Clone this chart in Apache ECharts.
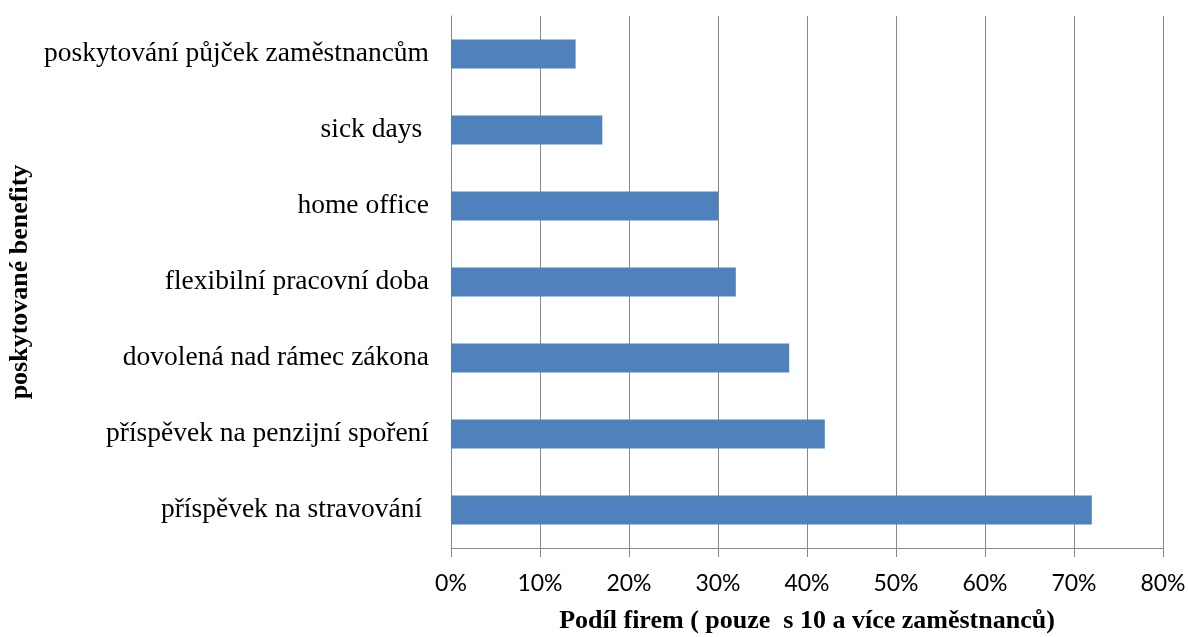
<!DOCTYPE html>
<html>
<head>
<meta charset="utf-8">
<script src="https://cdn.jsdelivr.net/npm/echarts@6/dist/echarts.min.js"></script>
<style>
    html, body { margin: 0; padding: 0; background: #fff; }
    #chart { width: 1188px; height: 637px; }
</style>
</head>
<body>
<div id="chart"></div>
<script>
    // data, bottom to top
    var categories = [
        'příspěvek na stravování ',
        'příspěvek na penzijní spoření',
        'dovolená nad rámec zákona',
        'flexibilní pracovní doba',
        'home office',
        'sick days ',
        'poskytování půjček zaměstnancům'
    ];
    var shares = [72, 42, 38, 32, 30, 17, 14];
    var xTicks = [0, 10, 20, 30, 40, 50, 60, 70, 80];

    var chart = echarts.init(document.getElementById('chart'));
    var serif = '"Liberation Serif", "DejaVu Serif", serif';

    var options = {
        animation: false,
        grid: {
            left: 451,
            right: 25,
            top: 16,
            bottom: 89,
            containLabel: false,
            outerBoundsMode: 'none'
        },
        xAxis: {
            type: 'value',
            min: xTicks[0],
            max: xTicks[xTicks.length - 1],
            interval: 10,
            name: 'Podíl firem ( pouze  s 10 a více zaměstnanců)',
            nameLocation: 'middle',
            nameGap: 60,
            nameTextStyle: {
                fontFamily: serif,
                fontWeight: 'bold',
                fontSize: 26,
                color: '#000'
            },
            axisLine: { show: true, lineStyle: { color: '#888', width: 1 } },
            axisTick: { show: true, length: 9, lineStyle: { color: '#888' } },
            axisLabel: {
                formatter: '{value}%',
                margin: 24,
                fontFamily: 'Lato, "Open Sans", sans-serif',
                fontSize: 23,
                color: '#000'
            },
            splitLine: { show: true, lineStyle: { color: '#888', width: 1 } }
        },
        yAxis: {
            type: 'category',
            data: categories,
            name: 'poskytované benefity',
            nameLocation: 'middle',
            nameGap: 417,
            nameRotate: 90,
            nameTextStyle: {
                fontFamily: serif,
                fontWeight: 'bold',
                fontSize: 26,
                color: '#000'
            },
            axisLine: { show: true, lineStyle: { color: '#888', width: 1 } },
            axisTick: { show: false },
            axisLabel: {
                margin: 22,
                fontFamily: serif,
                fontSize: 27.5,
                color: '#000'
            },
            splitLine: { show: false }
        },
        series: [{
            type: 'bar',
            data: shares,
            barWidth: '38%',
            itemStyle: { color: '#4f81bd' }
        }]
    };
    chart.setOption(options);

    window.addEventListener('resize', function () {
        chart.resize();
    });
</script>
</body>
</html>
